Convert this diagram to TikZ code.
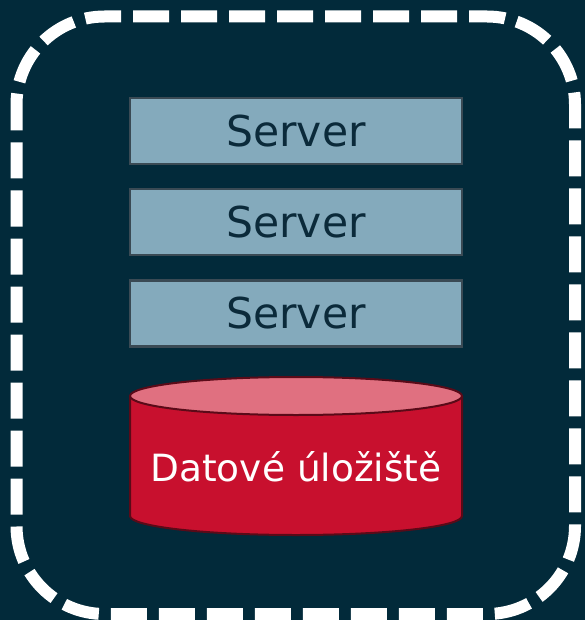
\documentclass[tikz,border=0pt]{standalone}
\usepackage{fontspec}
\setmainfont{DejaVu Sans}
\definecolor{bg}{HTML}{022A3A}
\definecolor{srvfill}{HTML}{84AABC}
\definecolor{srvline}{HTML}{3A4A54}
\definecolor{srvtext}{HTML}{0B2A3A}
\definecolor{dbfill}{HTML}{C8102E}
\definecolor{dbtop}{HTML}{E07080}
\definecolor{dbline}{HTML}{5A0A18}
\begin{document}
\begin{tikzpicture}[x=1pt,y=-1pt,
  serverbox/.style={draw=srvline, line width=2.5pt, fill=srvfill, minimum width=332pt, minimum height=66pt, inner sep=0pt, text=srvtext, font=\fontsize{42.5}{42.5}\selectfont},
  border/.style={draw=white, line width=12pt, dash pattern=on 36pt off 12pt, rounded corners=88pt}]
\fill[bg] (0,0) rectangle (585,620);
\useasboundingbox (0,0) rectangle (585,620);
\begin{scope}
\clip (0,0) rectangle (585,620);
\draw[border, dash phase=10pt] (16.5,16.5) rectangle (575,614);
\end{scope}
\node[serverbox] (s1) at (296,131) {Server};
\node[serverbox] (s2) at (296,222) {Server};
\node[serverbox] (s3) at (296,313.5) {Server};
\draw[dbline, line width=2pt, fill=dbfill] (130,396) -- (130,516) arc[start angle=180, end angle=0, x radius=166, y radius=19] -- (462,396);
\draw[dbline, line width=2pt, fill=dbtop] (296,396) ellipse[x radius=166, y radius=19];
\node[text=white, font=\fontsize{37.5}{37.5}\selectfont] (storage) at (296,467) {Datové úložiště};
\end{tikzpicture}
\end{document}
